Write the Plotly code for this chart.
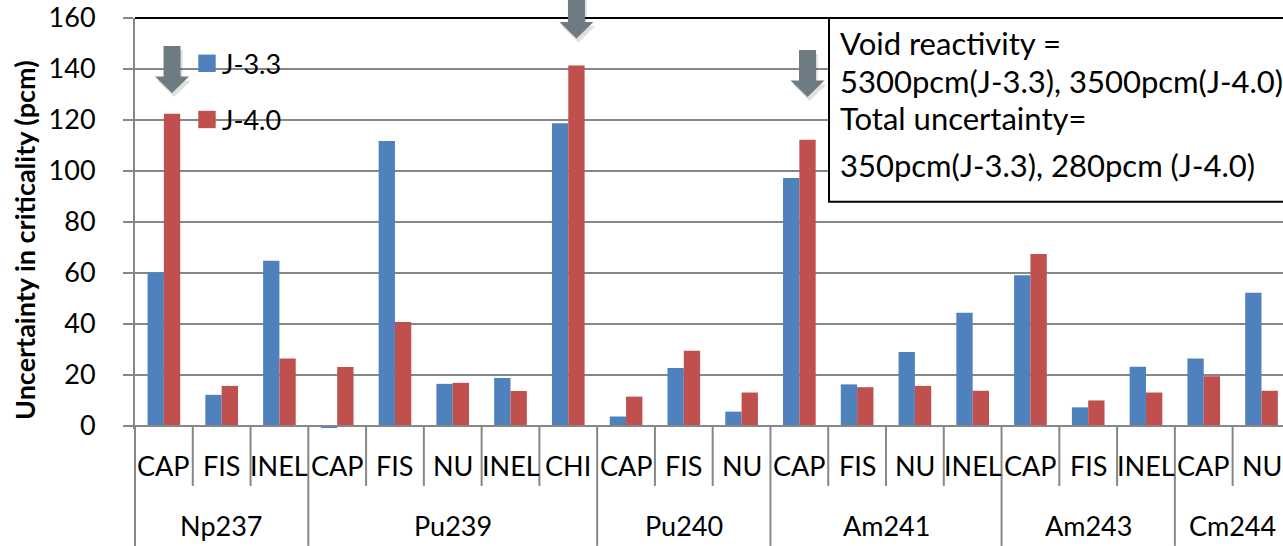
import plotly.graph_objects as go

# ---- data -----------------------------------------------------------------
ISOTOPES = ["Np237", "Pu239", "Pu240", "Am241", "Am243", "Cm244"]
REACTIONS = [
    ["CAP", "FIS", "INEL"],
    ["CAP", "FIS", "NU", "INEL", "CHI"],
    ["CAP", "FIS", "NU"],
    ["CAP", "FIS", "NU", "INEL"],
    ["CAP", "FIS", "INEL"],
    ["CAP", "NU"],
]
SERIES_NAMES = ["J-3.3", "J-4.0"]
J33_PCM = [60.2, 12.2, 64.8,
           -0.8, 111.8, 16.5, 18.8, 118.7,
           3.7, 22.7, 5.6,
           97.2, 16.3, 29.0, 44.4,
           59.1, 7.3, 23.2,
           26.5, 52.2]
J40_PCM = [122.4, 15.7, 26.5,
           23.1, 40.8, 16.9, 13.7, 141.4,
           11.5, 29.5, 13.1,
           112.2, 15.2, 15.7, 13.8,
           67.4, 10.0, 13.1,
           19.5, 13.8]
Y_TICKS = [0, 20, 40, 60, 80, 100, 120, 140, 160]
Y_TITLE = "Uncertainty in criticality (pcm)"
NOTE_LINES = [
    "Void reactivity =",
    "5300pcm(J-3.3), 3500pcm(J-4.0)",
    "Total uncertainty=",
    "350pcm(J-3.3), 280pcm (J-4.0)",
]
# highlighted bars (isotope, reaction) and where each arrow tip points
ARROW_TARGETS = [("Np237", "CAP"), ("Pu239", "CHI"), ("Am241", "CAP")]
ARROW_TIPS = [130.6, 152.0, 129.0]

# ---- styling / layout constants (pixels) ----------------------------------
W, H = 1283, 546
FONT = "Lato"
FS = 27
NOTE_FS = 31
BLUE, RED = "#4F81BD", "#C0504D"
GRID = "#878787"
ARROW_COL = "#6E7B83"
PLOT_L, PLOT_T, PLOT_R = 135, 18, 1283
ZERO_PX = 426
Y_MIN, Y_MAX = -1.2, 160
CAT_W = 57.77
BARGAP = 0.435

plot_h = (ZERO_PX - PLOT_T) * (Y_MAX - Y_MIN) / Y_MAX
plot_w = PLOT_R - PLOT_L
MARGIN_B = H - PLOT_T - plot_h
X_MAX = plot_w / CAT_W


def px_x(p):
    return (p - PLOT_L) / plot_w


def px_y(p):
    return (PLOT_T + plot_h - p) / plot_h


def cat_px(x):
    return PLOT_L + x * CAT_W


def val_px(v):
    return PLOT_T + (Y_MAX - v) / (Y_MAX - Y_MIN) * plot_h


# flat category list
flat = [(iso, r) for iso, rs in zip(ISOTOPES, REACTIONS) for r in rs]
n_cat = len(flat)
xpos = [i + 0.5 for i in range(n_cat)]

fig = go.Figure()
for name, vals, col in [(SERIES_NAMES[0], J33_PCM, BLUE), (SERIES_NAMES[1], J40_PCM, RED)]:
    fig.add_trace(go.Bar(x=xpos, y=vals, name=name, marker=dict(color=col, line=dict(width=0)),
                         showlegend=False))

shapes = []
annotations = []

# top border line
shapes.append(dict(type="line", xref="paper", yref="paper", x0=0, x1=1, y0=1, y1=1,
                   line=dict(color="black", width=2), layer="above"))
# zero line across the bars
shapes.append(dict(type="line", xref="paper", yref="y", x0=0, x1=1, y0=0, y1=0,
                   line=dict(color=GRID, width=2), layer="above"))

# category axis dividers
group_edges = [0]
for rs in REACTIONS:
    group_edges.append(group_edges[-1] + len(rs))
for i in range(n_cat + 1):
    bottom = H if i in group_edges else 486
    xp = px_x(cat_px(i))
    if xp > 1:
        continue
    shapes.append(dict(type="line", xref="paper", yref="paper", x0=xp, x1=xp,
                       y0=px_y(ZERO_PX), y1=px_y(bottom),
                       line=dict(color=GRID, width=2), layer="above"))

# reaction labels
for i, (iso, r) in enumerate(flat):
    annotations.append(dict(x=i + 0.5, xref="x", y=px_y(466), yref="paper", text=r,
                            showarrow=False, xanchor="center", yanchor="middle",
                            font=dict(size=FS, color="black", family=FONT)))
# isotope labels
for g, iso in enumerate(ISOTOPES):
    xc = (group_edges[g] + group_edges[g + 1]) / 2
    annotations.append(dict(x=xc, xref="x", y=px_y(526), yref="paper", text=iso,
                            showarrow=False, xanchor="center", yanchor="middle",
                            font=dict(size=FS, color="black", family=FONT)))

# y-axis title
annotations.append(dict(x=px_x(25), xref="paper", y=px_y(240), yref="paper",
                        text="<b>" + Y_TITLE + "</b>", textangle=-90, showarrow=False,
                        xanchor="center", yanchor="middle",
                        font=dict(size=FS, color="black", family=FONT)))

# legend
for k, (name, col) in enumerate(zip(SERIES_NAMES, [BLUE, RED])):
    cy = 63.3 + k * 56.2
    shapes.append(dict(type="rect", xref="paper", yref="paper",
                       x0=px_x(198.3), x1=px_x(215.7), y0=px_y(cy + 8.7), y1=px_y(cy - 8.7),
                       fillcolor=col, line=dict(width=0), layer="above"))
    annotations.append(dict(x=px_x(220), xref="paper", y=px_y(cy), yref="paper", text=name,
                            showarrow=False, xanchor="left", yanchor="middle",
                            font=dict(size=FS, color="black", family=FONT)))

# arrows pointing at selected J-4.0 bars
red_offset = (1 - BARGAP) / 4
for (iso, r), tip in zip(ARROW_TARGETS, ARROW_TIPS):
    idx = flat.index((iso, r))
    cx = cat_px(idx + 0.5 + red_offset)
    ty = val_px(tip)
    pts = [(cx - 8.5, ty - 47), (cx + 8.5, ty - 47), (cx + 8.5, ty - 16.5), (cx + 17, ty - 16.5),
           (cx, ty), (cx - 17, ty - 16.5), (cx - 8.5, ty - 16.5)]
    for dx, dy, colr in [(2, 4, "rgba(0,0,0,0.12)"), (0, 0, ARROW_COL)]:
        path = "M " + " L ".join(f"{px_x(x + dx):.5f},{px_y(y + dy):.5f}" for x, y in pts) + " Z"
        shapes.append(dict(type="path", xref="paper", yref="paper", path=path,
                           fillcolor=colr, line=dict(width=0), layer="above"))

# note box
shapes.append(dict(type="rect", xref="paper", yref="paper",
                   x0=px_x(829), x1=px_x(1320), y0=px_y(201.7), y1=px_y(18),
                   fillcolor="white", line=dict(color="black", width=2), layer="above"))
for line, base in zip(NOTE_LINES, [55, 92.7, 130, 176.7]):
    annotations.append(dict(x=px_x(838), xref="paper", y=px_y(base - 11.7), yref="paper", text=line,
                            showarrow=False, xanchor="left", yanchor="middle",
                            font=dict(size=NOTE_FS, color="black", family=FONT)))

fig.update_layout(
    width=W, height=H,
    margin=dict(l=PLOT_L, r=W - PLOT_R, t=PLOT_T, b=MARGIN_B, autoexpand=False),
    paper_bgcolor="white", plot_bgcolor="white",
    barmode="group", bargap=BARGAP, bargroupgap=0,
    font=dict(family=FONT, size=FS, color="black"),
    xaxis=dict(range=[0, X_MAX], showticklabels=False, showgrid=False, zeroline=False,
               showline=False, ticks=""),
    yaxis=dict(range=[Y_MIN, Y_MAX], tickvals=Y_TICKS, ticks="outside", ticklen=10, tickwidth=2,
               tickcolor=GRID, showline=True, linecolor=GRID, linewidth=2,
               showgrid=True, gridcolor=GRID, gridwidth=2, zeroline=False,
               ticklabelstandoff=22, tickfont=dict(size=FS, family=FONT, color="black")),
    shapes=shapes, annotations=annotations,
)

fig.write_html("out.html")
